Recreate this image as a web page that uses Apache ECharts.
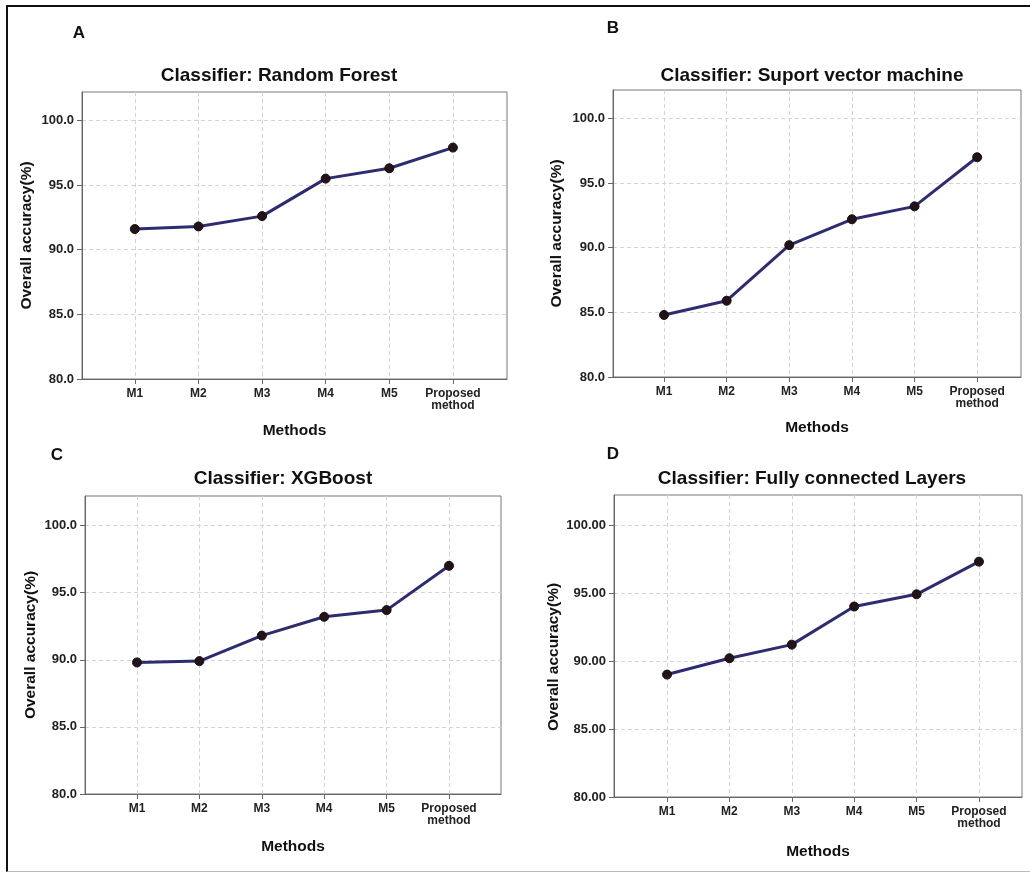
<!DOCTYPE html>
<html>
<head>
<meta charset="utf-8">
<script src="https://cdn.jsdelivr.net/npm/echarts@6/dist/echarts.min.js"></script>
<style>
    body { margin: 0; background: #fff; }
    .frame {
        position: absolute;
        left: 6px;
        top: 5px;
        width: 1030px;
        height: 864px;
        border-left: 2px solid #111;
        border-top: 2px solid #111;
        border-bottom: 1px solid #bbb;
    }
    #chart { position: absolute; left: 0; top: 0; width: 1030px; height: 872px; }
</style>
</head>
<body>
<div class="frame"></div>
<div id="chart"></div>
<script>
// methods on the x axis
var categories = ['M1', 'M2', 'M3', 'M4', 'M5', 'Proposed\nmethod'];
// overall accuracy (%) per classifier
var rfAcc = [91.6, 91.8, 92.6, 95.5, 96.3, 97.9];
var svmAcc = [84.8, 85.9, 90.2, 92.2, 93.2, 97.0];
var xgbAcc = [89.8, 89.9, 91.8, 93.2, 93.7, 97.0];
var fcAcc = [89.0, 90.2, 91.2, 94.0, 94.9, 97.3];
var yTicks = [80, 85, 90, 95, 100];

var panels = [
    { data: rfAcc, title: 'Classifier: Random Forest', letter: 'A', dec: 1,
      box: [82, 92, 425, 287], xr: [-0.83, 5.85], titlePos: [279, 76], letterPos: [79, 33], yGap: 47, yPad: 0, xGap: 44 },
    { data: svmAcc, title: 'Classifier: Suport vector machine', letter: 'B', dec: 1,
      box: [613, 90, 408, 287], xr: [-0.815, 5.70], titlePos: [812, 76], letterPos: [613, 28], yGap: 48, yPad: 0, xGap: 43 },
    { data: xgbAcc, title: 'Classifier: XGBoost', letter: 'C', dec: 1,
      box: [85, 496, 416, 298], xr: [-0.833, 5.833], titlePos: [283, 479], letterPos: [57, 455], yGap: 46, yPad: 0, xGap: 45 },
    { data: fcAcc, title: 'Classifier: Fully connected Layers', letter: 'D', dec: 2,
      box: [614, 495, 408, 302], xr: [-0.85, 5.69], titlePos: [812, 479], letterPos: [613, 454], yGap: 52, yPad: 22, xGap: 47 }
];

var font = 'Liberation Sans, Arial, sans-serif';
var grids = [], xAxes = [], yAxes = [], series = [], graphics = [];

panels.forEach(function (p, i) {
    grids.push({
        left: p.box[0], top: p.box[1], width: p.box[2], height: p.box[3],
        show: true, borderColor: '#777', borderWidth: 1, backgroundColor: 'transparent'
    });
    xAxes.push({
        gridIndex: i,
        type: 'value',
        min: p.xr[0],
        max: p.xr[1],
        name: 'Methods',
        nameLocation: 'middle',
        nameGap: p.xGap,
        nameTextStyle: { fontFamily: font, fontWeight: 'bold', fontSize: 15.5, color: '#111' },
        axisLine: { show: true, onZero: false, lineStyle: { color: '#666', width: 1 } },
        axisTick: { show: true, length: 5, lineStyle: { color: '#666' }, customValues: [0, 1, 2, 3, 4, 5] },
        axisLabel: {
            customValues: [0, 1, 2, 3, 4, 5],
            margin: 9,
            fontFamily: font, fontWeight: 'bold', fontSize: 12, lineHeight: 12, color: '#222',
            formatter: function (v) { return categories[Math.round(v)]; }
        },
        splitLine: { show: true, lineStyle: { color: '#d4d4d4', type: [4, 3], width: 1 } }
    });
    yAxes.push({
        gridIndex: i,
        type: 'value',
        min: 80,
        max: 102.2,
        interval: 5,
        name: 'Overall accuracy(%)',
        nameLocation: 'middle',
        nameGap: p.yGap,
        nameTextStyle: { fontFamily: font, fontWeight: 'bold', fontSize: 15.5, color: '#111', padding: [0, p.yPad, 0, 0] },
        axisLine: { show: true, onZero: false, lineStyle: { color: '#666', width: 1 } },
        axisTick: { show: true, length: 5, lineStyle: { color: '#666' }, customValues: yTicks },
        axisLabel: {
            customValues: yTicks,
            margin: 8,
            fontFamily: font, fontWeight: 'bold', fontSize: 13, color: '#222',
            formatter: function (v) { return v.toFixed(p.dec); }
        },
        splitLine: { show: true, lineStyle: { color: '#d4d4d4', type: [4, 3], width: 1 } }
    });
    series.push({
        type: 'line',
        xAxisIndex: i,
        yAxisIndex: i,
        data: p.data.map(function (v, k) { return [k, v]; }),
        symbol: 'circle',
        symbolSize: 9,
        lineStyle: { color: '#2e2c6e', width: 3 },
        itemStyle: { color: '#24121a', borderColor: '#111', borderWidth: 1 },
        z: 5
    });
    graphics.push({
        type: 'text', x: p.titlePos[0], y: p.titlePos[1],
        style: { text: p.title, fontFamily: font, fontWeight: 'bold', fontSize: 19, fill: '#111', align: 'center', verticalAlign: 'middle' }
    });
    graphics.push({
        type: 'text', x: p.letterPos[0], y: p.letterPos[1],
        style: { text: p.letter, fontFamily: font, fontWeight: 'bold', fontSize: 17, fill: '#111', align: 'center', verticalAlign: 'middle' }
    });
});

var myChart = echarts.init(document.getElementById('chart'));
myChart.setOption({
    animation: false,
    grid: grids,
    xAxis: xAxes,
    yAxis: yAxes,
    series: series,
    graphic: graphics
});
</script>
</body>
</html>
